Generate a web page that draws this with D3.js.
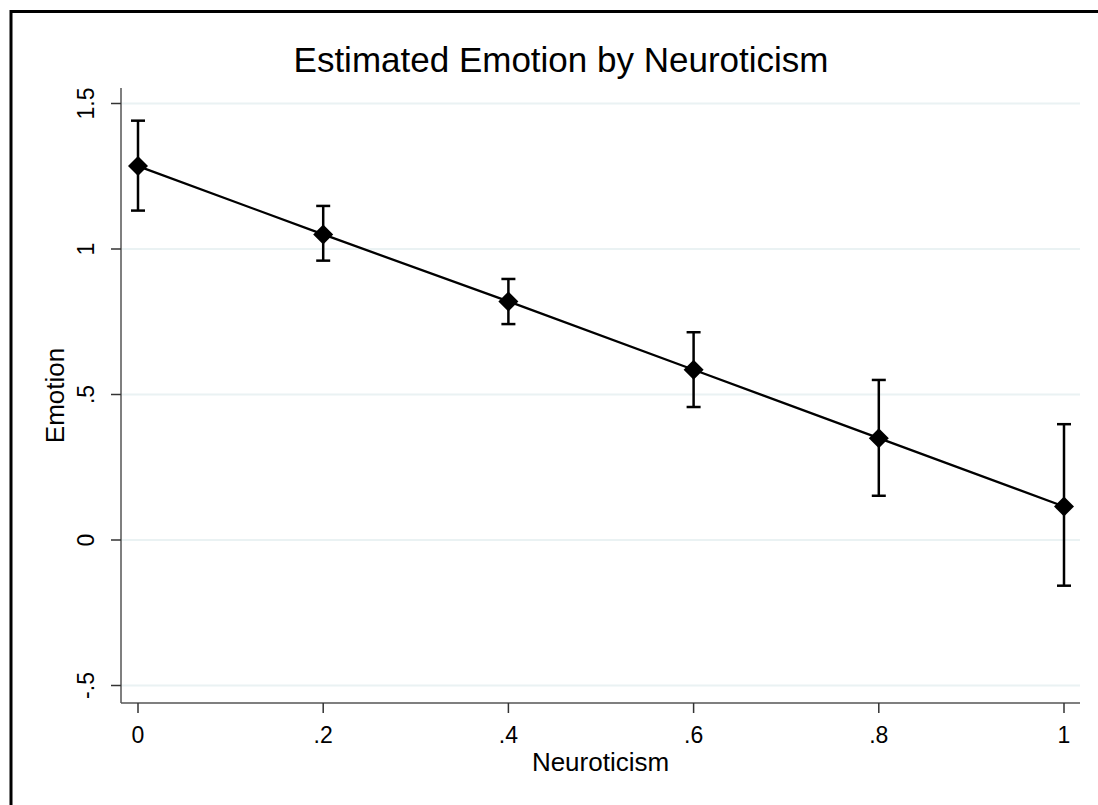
<!doctype html>
<html lang="en">
<head>
  <meta charset="utf-8">
  <title>Estimated Emotion by Neuroticism</title>
</head>

<style>
body {
	margin: 0;
	background: #fff;
	font-family: Arial, "Liberation Sans", sans-serif;
}
</style>

<body>
  <script src="https://d3js.org/d3.v7.min.js"></script>
  <script>

	// Data
	var neuroticism = [0, 0.2, 0.4, 0.6, 0.8, 1];
	var emotion     = [1.285, 1.050, 0.820, 0.585, 0.350, 0.115];
	var ciLow       = [1.132, 0.960, 0.742, 0.457, 0.152, -0.157];
	var ciHigh      = [1.441, 1.148, 0.897, 0.714, 0.550, 0.398];

	var xTicks = [0, 0.2, 0.4, 0.6, 0.8, 1];
	var yTicks = [-0.5, 0, 0.5, 1, 1.5];

	var W = 1098, H = 805;

	var svg = d3.select("body").append("svg")
		.attr("width", W)
		.attr("height", H);

	// outer frame (left + top visible, image cropped on other sides)
	svg.append("rect")
		.attr("x", 11)
		.attr("y", 11.5)
		.attr("width", W + 20)
		.attr("height", H + 20)
		.attr("fill", "none")
		.attr("stroke", "#000")
		.attr("stroke-width", 3);

	var plot = { left: 121, right: 1080, top: 88, bottom: 703 };

	var x = d3.scaleLinear()
		.domain([0, 1])
		.range([138, 1064]);

	var y = d3.scaleLinear()
		.domain([0, 1.5])
		.range([540, 103.5]);

	// fmt like stata: .2 instead of 0.2, -.5 instead of -0.5
	function fmt(v) {
		var s = String(v);
		return s.replace(/^0\./, ".").replace(/^-0\./, "-.");
	}

	// gridlines
	svg.selectAll(".grid")
		.data(yTicks)
		.join("line")
		.classed("grid", true)
		.attr("x1", plot.left)
		.attr("x2", plot.right)
		.attr("y1", function (d) { return y(d); })
		.attr("y2", function (d) { return y(d); })
		.attr("stroke", "#eaf2f3")
		.attr("stroke-width", 2);

	// y axis
	var yAxis = svg.append("g")
		.attr("transform", "translate(" + plot.left + ",0)");

	yAxis.append("line")
		.attr("x1", 0).attr("x2", 0)
		.attr("y1", plot.top).attr("y2", plot.bottom)
		.attr("stroke", "#555")
		.attr("stroke-width", 1.5);

	yAxis.selectAll(".ytick")
		.data(yTicks)
		.join("line")
		.classed("ytick", true)
		.attr("x1", -10).attr("x2", 0)
		.attr("y1", function (d) { return y(d); })
		.attr("y2", function (d) { return y(d); })
		.attr("stroke", "#333")
		.attr("stroke-width", 1.5);

	yAxis.selectAll(".ylab")
		.data(yTicks)
		.join("text")
		.classed("ylab", true)
		.attr("transform", function (d) {
			return "translate(-27," + y(d) + ") rotate(-90)";
		})
		.attr("text-anchor", "middle")
		.attr("font-size", "23px")
		.attr("fill", "#000")
		.text(fmt);

	// x axis
	var xAxis = svg.append("g")
		.attr("transform", "translate(0," + plot.bottom + ")");

	xAxis.append("line")
		.attr("x1", plot.left).attr("x2", plot.right)
		.attr("y1", 0).attr("y2", 0)
		.attr("stroke", "#555")
		.attr("stroke-width", 1.5);

	xAxis.selectAll(".xtick")
		.data(xTicks)
		.join("line")
		.classed("xtick", true)
		.attr("x1", function (d) { return x(d); })
		.attr("x2", function (d) { return x(d); })
		.attr("y1", 0).attr("y2", 10)
		.attr("stroke", "#333")
		.attr("stroke-width", 1.5);

	xAxis.selectAll(".xlab")
		.data(xTicks)
		.join("text")
		.classed("xlab", true)
		.attr("x", function (d) { return x(d); })
		.attr("y", 40)
		.attr("text-anchor", "middle")
		.attr("font-size", "23px")
		.attr("fill", "#000")
		.text(fmt);

	// titles
	svg.append("text")
		.attr("x", 561)
		.attr("y", 72)
		.attr("text-anchor", "middle")
		.attr("font-size", "35px")
		.text("Estimated Emotion by Neuroticism");

	svg.append("text")
		.attr("x", (plot.left + plot.right) / 2)
		.attr("y", 771)
		.attr("text-anchor", "middle")
		.attr("font-size", "26px")
		.text("Neuroticism");

	svg.append("text")
		.attr("transform", "translate(64," + (plot.top + plot.bottom) / 2 + ") rotate(-90)")
		.attr("text-anchor", "middle")
		.attr("font-size", "26px")
		.text("Emotion");

	// connecting line
	var line = d3.line()
		.x(function (d, i) { return x(neuroticism[i]); })
		.y(function (d) { return y(d); });

	svg.append("path")
		.datum(emotion)
		.attr("d", line)
		.attr("fill", "none")
		.attr("stroke", "#000")
		.attr("stroke-width", 2.3);

	// error bars
	var bars = svg.selectAll(".ci")
		.data(neuroticism)
		.join("g")
		.classed("ci", true);

	bars.append("line")
		.attr("x1", function (d) { return x(d); })
		.attr("x2", function (d) { return x(d); })
		.attr("y1", function (d, i) { return y(ciLow[i]); })
		.attr("y2", function (d, i) { return y(ciHigh[i]); })
		.attr("stroke", "#000")
		.attr("stroke-width", 2.5);

	bars.append("line")
		.attr("x1", function (d) { return x(d) - 7; })
		.attr("x2", function (d) { return x(d) + 7; })
		.attr("y1", function (d, i) { return y(ciLow[i]); })
		.attr("y2", function (d, i) { return y(ciLow[i]); })
		.attr("stroke", "#000")
		.attr("stroke-width", 2.5);

	bars.append("line")
		.attr("x1", function (d) { return x(d) - 7; })
		.attr("x2", function (d) { return x(d) + 7; })
		.attr("y1", function (d, i) { return y(ciHigh[i]); })
		.attr("y2", function (d, i) { return y(ciHigh[i]); })
		.attr("stroke", "#000")
		.attr("stroke-width", 2.5);

	// diamond markers
	svg.selectAll(".pt")
		.data(emotion)
		.join("path")
		.classed("pt", true)
		.attr("transform", function (d, i) {
			return "translate(" + x(neuroticism[i]) + "," + y(d) + ")";
		})
		.attr("d", "M0,-10L10,0L0,10L-10,0Z")
		.attr("fill", "#000");

  </script>
</body>
</html>
